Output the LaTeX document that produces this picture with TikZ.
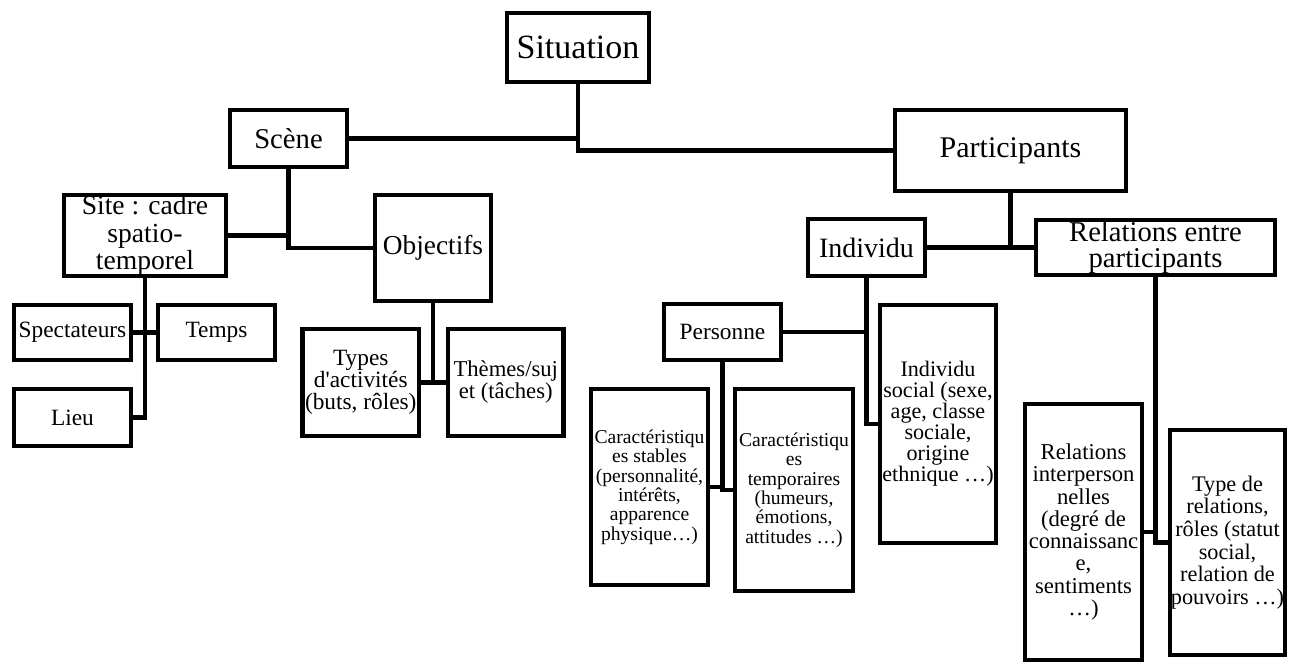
\documentclass[tikz,border=0pt]{standalone}
\usepackage{fontspec}
\setmainfont{Liberation Serif}
\newcommand{\fsz}[2]{\fontsize{#1}{#2}\selectfont}
\begin{document}
\begin{tikzpicture}[x=0.75pt,y=-0.75pt,
  box/.style={draw=black, line width=3.3pt, inner sep=0pt, align=center, fill=white},
  conn/.style={draw=black, line width=3.3pt}]
\useasboundingbox (0,0) rectangle (1298,664);
% nodes
\node[box, minimum width=106.5pt, minimum height=51.75pt, font=\fsz{25.5}{25}] (sit) at (578,47.5) {Situation};
\node[box, minimum width=87.75pt, minimum height=42.75pt, font=\fsz{21.5}{21}] (sce) at (288.5,138.5) {Scène};
\node[box, minimum width=173.25pt, minimum height=60.75pt, font=\fsz{22.5}{22}] (par) at (1010.5,150.5) {Participants};
\node[box, minimum width=121.5pt, minimum height=60.75pt, font=\fsz{20.7}{20.5}] (site) at (145,235.5) {Site : cadre\\spatio-\\temporel};
\node[box, minimum width=87pt, minimum height=79.5pt, font=\fsz{20.5}{20}] (obj) at (433,248) {Objectifs};
\node[box, minimum width=87.75pt, minimum height=41.25pt, font=\fsz{17.5}{17}] (spec) at (72.5,332.5) {Spectateurs};
\node[box, minimum width=87.75pt, minimum height=41.25pt, font=\fsz{17.5}{17}] (temps) at (216.5,332.5) {Temps};
\node[box, minimum width=87.75pt, minimum height=42.75pt, font=\fsz{17.5}{17}] (lieu) at (72.5,417.5) {Lieu};
\node[box, minimum width=87.4pt, minimum height=80.25pt, font=\fsz{17.5}{16.5}] (types) at (360.75,382.5) {Types\\d\textquotesingle activités\\(buts, rôles)};
\node[box, minimum width=86.6pt, minimum height=80.25pt, font=\fsz{17}{16.5}] (them) at (505.75,382.5) {Thèmes/suj\\et (tâches)};
\node[box, minimum width=87.75pt, minimum height=42.75pt, font=\fsz{21}{21}] (ind) at (866.5,247.5) {Individu};
\node[box, minimum width=179.25pt, minimum height=41.25pt, font=\fsz{21.5}{20}] (rel) at (1155.5,247.5) {Relations entre\\participants};
\node[box, minimum width=87.75pt, minimum height=42pt, font=\fsz{17.5}{17.3}] (pers) at (722.5,332) {Personne};
\node[box, minimum width=87pt, minimum height=178.5pt, font=\fsz{16.6}{15.7}] (isoc) at (938,424) {Individu\\social (sexe,\\age, classe\\sociale,\\origine\\ethnique …)};
\node[box, minimum width=87.75pt, minimum height=147pt, font=\fsz{14.7}{14.5}] (cstab) at (649.5,487) {Caractéristiqu\\es stables\\(personnalité,\\intérêts,\\apparence\\physique…)};
\node[box, minimum width=88.5pt, minimum height=151.5pt, font=\fsz{14.7}{14.5}] (ctemp) at (794,490) {Caractéristiqu\\es\\temporaires\\(humeurs,\\émotions,\\attitudes …)};
\node[box, minimum width=87.75pt, minimum height=192pt, font=\fsz{17}{16.7}] (rint) at (1083.5,532) {Relations\\interperson\\nelles\\(degré de\\connaissanc\\e,\\sentiments\\…)};
\node[box, minimum width=86.25pt, minimum height=168.75pt, font=\fsz{16.7}{17}] (type) at (1227.5,542.5) {Type de\\relations,\\rôles (statut\\social,\\relation de\\pouvoirs …)};
% connectors
\draw[conn] (sce.east) -- (sce.east -| sit.south);
\draw[conn] (sit.south) |- (par.west);
\draw[conn] (sce.south) |- (obj.west);
\draw[conn] (site.east) -- (site.east -| sce.south);
\draw[conn] (site.south) |- (lieu.east);
\draw[conn] (spec.east) -- (spec.east -| site.south);
\draw[conn] (temps.west) -- (temps.west -| site.south);
\draw[conn] (obj.south) |- (them.west);
\draw[conn] (types.east) -- (types.east -| obj.south);
\draw[conn] (par.south) |- (rel.west);
\draw[conn] (ind.east) -- (ind.east -| par.south);
\draw[conn] (ind.south) |- (isoc.west);
\draw[conn] (pers.east) -- (pers.east -| ind.south);
\draw[conn] (pers.south) |- (ctemp.west);
\draw[conn] (cstab.east) -- (cstab.east -| pers.south);
\draw[conn] (rel.south) |- (type.west);
\draw[conn] (rint.east) -- (rint.east -| rel.south);
\end{tikzpicture}
\end{document}
